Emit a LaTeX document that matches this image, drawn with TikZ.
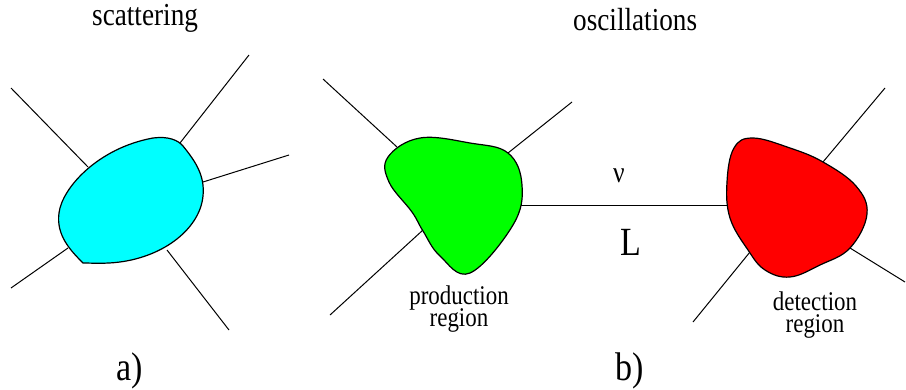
\documentclass[tikz,border=0pt]{standalone}
\usepackage{fontspec}
\setmainfont{Liberation Serif}[FakeStretch=0.85]
\usetikzlibrary{positioning}
\definecolor{scatcyan}{RGB}{0,255,255}
\definecolor{prodgreen}{RGB}{0,255,0}
\definecolor{detred}{RGB}{255,0,0}

\begin{document}
\begin{tikzpicture}[x=1pt, y=-1pt,
        leg/.style={line width=1pt, black},
        blob/.style={draw=black, line width=1.2pt},
        title/.style={font=\fontsize{32}{34}\selectfont, inner sep=0pt, anchor=base west},
        tag/.style={font=\fontsize{40}{42}\selectfont, inner sep=0pt},
        region/.style={font=\fontsize{27}{24}\selectfont, align=center, inner sep=0pt}
    ]
    \useasboundingbox (0,0) rectangle (906,389);

    % Headings
    \node[title] (scat) at (92,25)  {scattering};
    \node[title] (osc)  at (573,30) {oscillations};

    % a) scattering: external legs
    \coordinate (a1)  at (11,88);   \coordinate (a1e) at (88,167);
    \coordinate (a2)  at (249,55);  \coordinate (a2e) at (180,143);
    \coordinate (a3)  at (289,155); \coordinate (a3e) at (203,182);
    \coordinate (a4)  at (11,288);  \coordinate (a4e) at (68,248);
    \coordinate (a5)  at (229,330); \coordinate (a5e) at (167,250);
    \foreach \i in {1,...,5}
        \draw[leg] (a\i) -- (a\i e);

    % a) scattering blob
    \draw[blob, fill=scatcyan] (83,263) .. controls (70,250) and (56,235) .. (59,213)
        .. controls (62,188) and (98,148) .. (153,138)
        .. controls (168,136) and (178,140) .. (183,146)
        .. controls (196,162) and (205,176) .. (203,196)
        .. controls (200,228) and (165,256) .. (120,262)
        .. controls (105,264) and (92,263) .. (83,263) -- cycle;

    % b) oscillations: legs at production
    \coordinate (p1) at (323,79);  \coordinate (p1e) at (397,147);
    \coordinate (p2) at (572,102); \coordinate (p2e) at (508,153);
    \coordinate (p3) at (330,315); \coordinate (p3e) at (423,230);
    \foreach \i in {1,2,3}
        \draw[leg] (p\i) -- (p\i e);

    % legs at detection
    \coordinate (d1) at (885,88);  \coordinate (d1e) at (823,162);
    \coordinate (d2) at (905,282); \coordinate (d2e) at (850,248);
    \coordinate (d3) at (693,322); \coordinate (d3e) at (750,252);
    \foreach \i in {1,2,3}
        \draw[leg] (d\i) -- (d\i e);

    % neutrino propagation
    \coordinate (src) at (518,205);
    \coordinate (det) at (729,205);
    \draw[leg] (src) -- (det);
    \node[font=\fontsize{30}{32}\selectfont, inner sep=0pt, anchor=base west] (nu) at (613,182) {ν};
    \node[tag, anchor=base west] (len) at (620,255) {L};

    % production and detection blobs
    \draw[blob, fill=prodgreen] plot[smooth cycle, tension=0.65] coordinates {
        (388,157) (420,138) (470,143) (508,153) (522,185) (513,225)
        (470,273) (440,256) (423,231) (412,212) (389,182)};
    \draw[blob, fill=detred] plot[smooth cycle, tension=0.65] coordinates {
        (727,182) (734,148) (753,138) (790,148) (823,162) (856,186)
        (867,214) (850,248) (820,265) (790,277) (765,270) (748,250) (730,218)};

    \node[region] (prod) at (459,309) {production\\[-1.5pt]region};
    \node[region] (detn) at (815,315) {detection\\[-2pt]region};

    % Sub-figure tags
    \node[tag, anchor=base east] (ta) at (143,380) {a)};
    \node[tag, anchor=base west] (tb) at (615,380) {b)};
\end{tikzpicture}
\end{document}
